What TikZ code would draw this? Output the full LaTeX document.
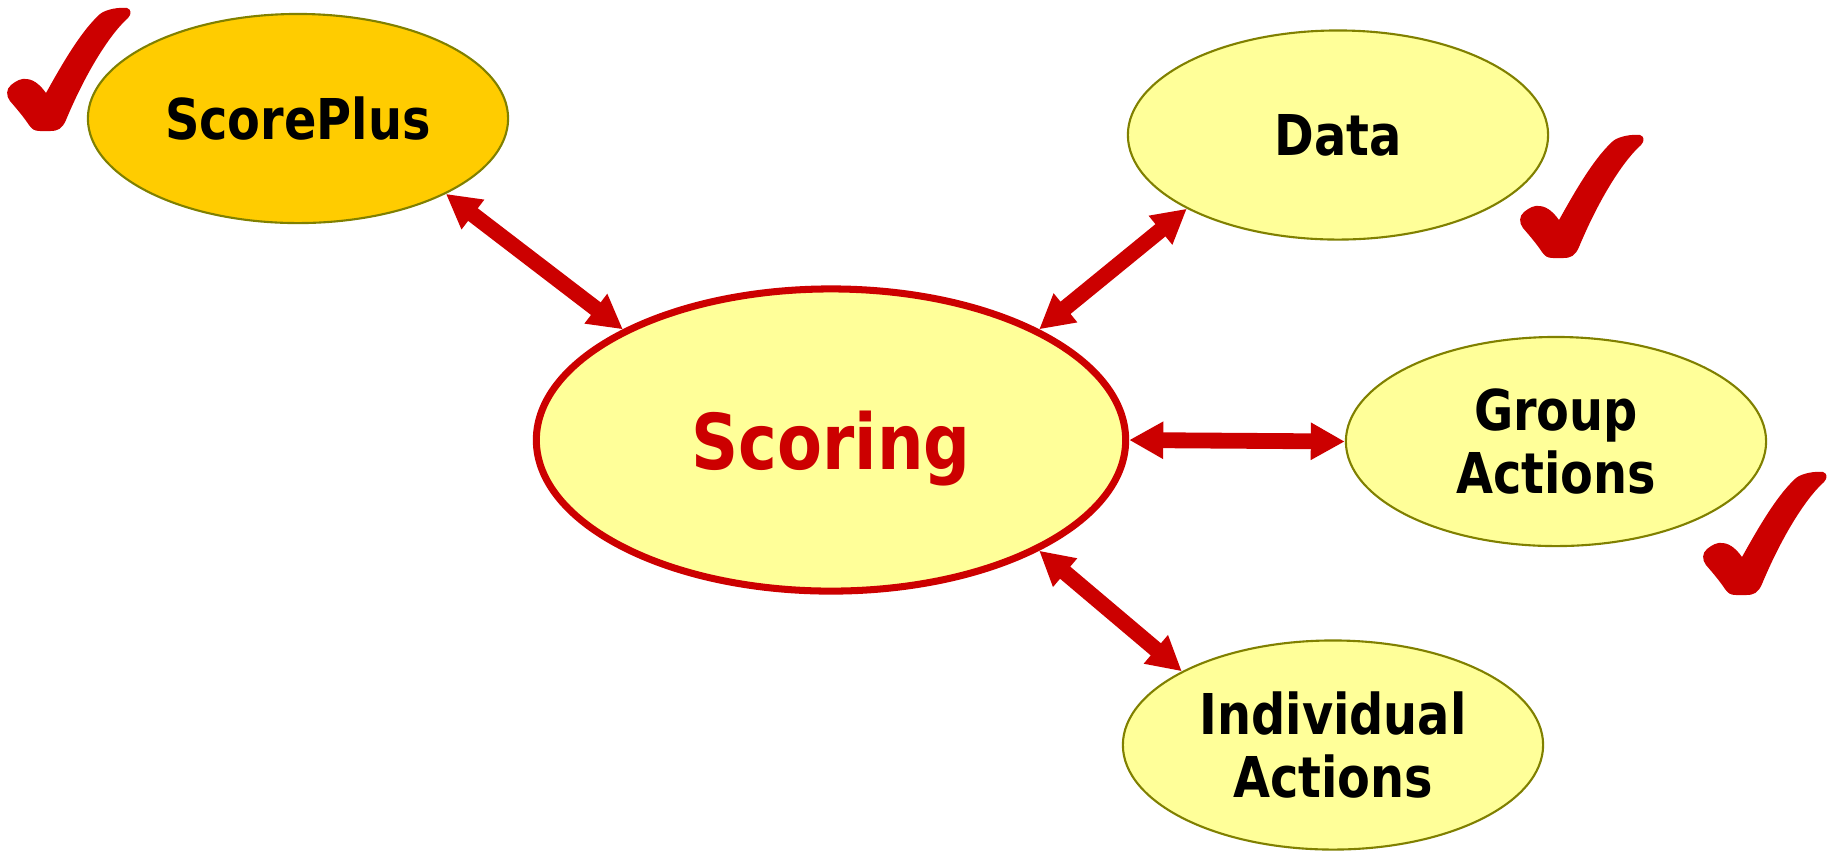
\documentclass[tikz,border=0pt]{standalone}
\usepackage{fontspec}
\setmainfont{DejaVu Sans}[FakeStretch=0.85]
\usetikzlibrary{shapes.geometric}
\usetikzlibrary{arrows.meta}

\definecolor{tickred}{HTML}{CC0000}
\definecolor{paleyellow}{HTML}{FFFF99}
\definecolor{gold}{HTML}{FFCC00}
\definecolor{rim}{HTML}{808000}

\tikzset{
  bubble/.style={ellipse, draw=rim, line width=0.6pt, fill=paleyellow,
    minimum width=4.2cm, minimum height=2.09cm, inner sep=0pt, align=center,
    font=\fontsize{16}{18}\selectfont\bfseries},
  link/.style={draw=tickred, line width=4.5pt,
    {Triangle[length=0.34cm,width=0.35cm]}-{Triangle[length=0.34cm,width=0.35cm]}},
  redtick/.pic={
    \fill[tickred] (46,93) .. controls (60,68) and (80,32) .. (100,14)
      .. controls (106,9) and (120,7) .. (127,8)
      .. controls (131,9) and (132,14) .. (128,18)
      .. controls (110,34) and (86,72) .. (66,120)
      .. controls (62,129) and (58,131) .. (50,131)
      -- (40,131) .. controls (34,131) and (32,129) .. (29,125)
      .. controls (23,116) and (16,108) .. (10,101)
      .. controls (6,96) and (6,89) .. (11,85)
      .. controls (16,81) and (21,78) .. (27,79)
      .. controls (35,80) and (41,86) .. (46,93) -- cycle;
  }
}

\begin{document}
\begin{tikzpicture}[x=0.01cm, y=-0.01cm]
\useasboundingbox (0,0) rectangle (1829,850);

% Centre node
\node[bubble, draw=tickred, line width=2pt, minimum width=5.89cm, minimum height=3.02cm,
  font=\fontsize{21.9}{24}\selectfont\bfseries, text=tickred, text depth=0pt] (scoring) at (831,440) {Scoring};

% Surrounding nodes
\node[bubble, fill=gold] (scoreplus) at (298,118.5) {ScorePlus};
\node[bubble] (data) at (1338,135) {Data};
\node[bubble] (group) at (1556,441.5) {Group\\Actions};
\node[bubble] (indiv) at (1333,745) {Individual\\Actions};

% Two-way links
\draw[link] (scoreplus.-27) -- (scoring.152);
\draw[link] (data.-154) -- (scoring.28);
\draw[link] (group.180) -- (scoring.0);
\draw[link] (indiv.154) -- (scoring.-28);

% Check marks
\pic at (0,0) {redtick};
\pic at (1513,127) {redtick};
\pic at (1696,464) {redtick};

\end{tikzpicture}
\end{document}
